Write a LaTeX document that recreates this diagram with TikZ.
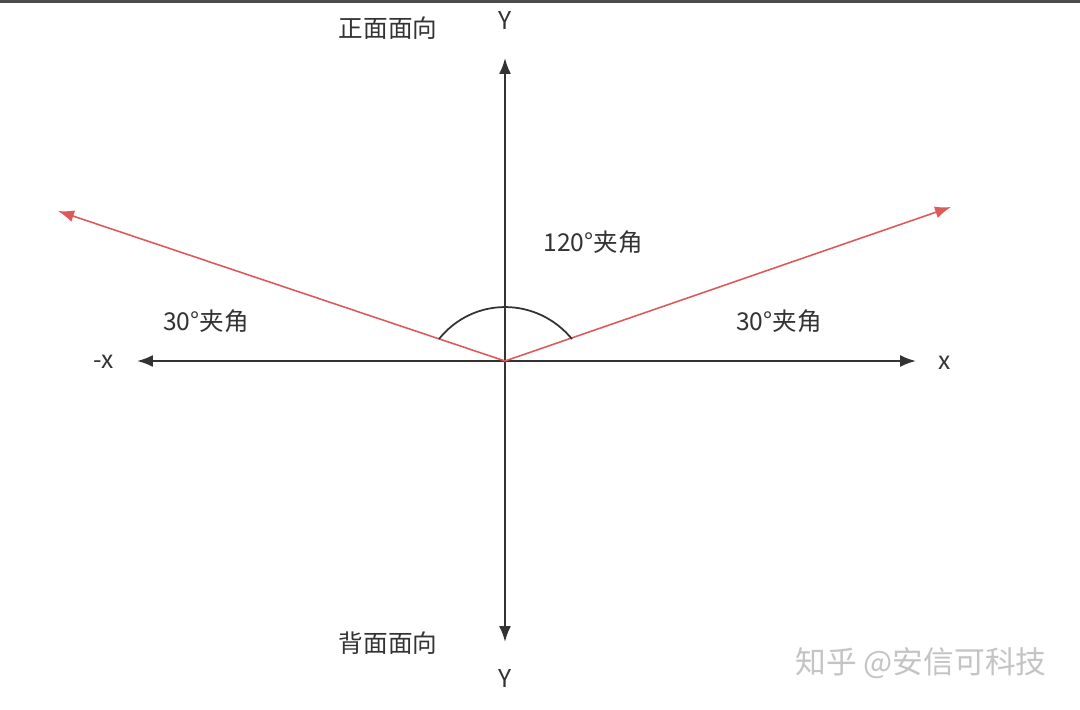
\documentclass[tikz,border=0pt]{standalone}
\usepackage{fontspec}
\setmainfont{Noto Sans CJK SC}
\usetikzlibrary{arrows.meta}
\definecolor{axisgray}{HTML}{333333}
\definecolor{txtgray}{HTML}{333333}
\definecolor{redline}{RGB}{222,90,90}
\definecolor{wmgray}{HTML}{C4C4C4}
\tikzset{
  axis/.style={draw=axisgray, line width=1.1pt, -{Latex[length=0.32cm,width=0.24cm]}},
  redvec/.style={draw=redline, line width=0.9pt, -{Latex[length=0.32cm,width=0.24cm]}},
  lbl/.style={text=txtgray, font=\fontsize{14pt}{16pt}\selectfont, inner sep=0pt},
  anglearc/.style={draw=axisgray, line width=1pt},
}
\begin{document}
\begin{tikzpicture}[x=0.02cm,y=-0.02cm]
\useasboundingbox (0,0) rectangle (1080,710);
\fill[white] (0,0) rectangle (1080,710);
% top border line
\fill[black!70] (0,0) rectangle (1080,3);
% coordinates
\coordinate (O) at (505,361);
\coordinate (Ytop) at (505,58);
\coordinate (Ybot) at (505,642);
\coordinate (Xr) at (916,361);
\coordinate (Xl) at (137,361);
\coordinate (Rr) at (951,207);
\coordinate (Rl) at (58,211);
\coordinate (Al) at (439,339);
\coordinate (Ar) at (572,339);
% axes
\draw[axis] (O) -- (Ytop);
\draw[axis] (O) -- (Ybot);
\draw[axis] (O) -- (Xr);
\draw[axis] (O) -- (Xl);
% red vectors
\draw[redvec] (O) -- (Rr);
\draw[redvec] (O) -- (Rl);
% angle arc
\draw[anglearc] (Al) .. controls (473.4,296.4) and (536.6,296.4) .. (Ar);
% labels
\node[lbl] (front) at (388,28) {正面面向};
\node[lbl] (ytop) at (505,20) {Y};
\node[lbl] (back) at (388,643) {背面面向};
\node[lbl] (ybot) at (505,678) {Y};
\node[lbl] (a120) at (593,242) {120°夹角};
\node[lbl] (a30l) at (206,321) {30°夹角};
\node[lbl] (a30r) at (779,321) {30°夹角};
\node[lbl] (mx) at (104,362) {-x};
\node[lbl] (px) at (945,363) {x};
% watermark
\node[text=wmgray, font=\fontsize{17.5pt}{19pt}\selectfont, inner sep=0pt] (wm) at (921,663) {知乎 @安信可科技};
\end{tikzpicture}
\end{document}
